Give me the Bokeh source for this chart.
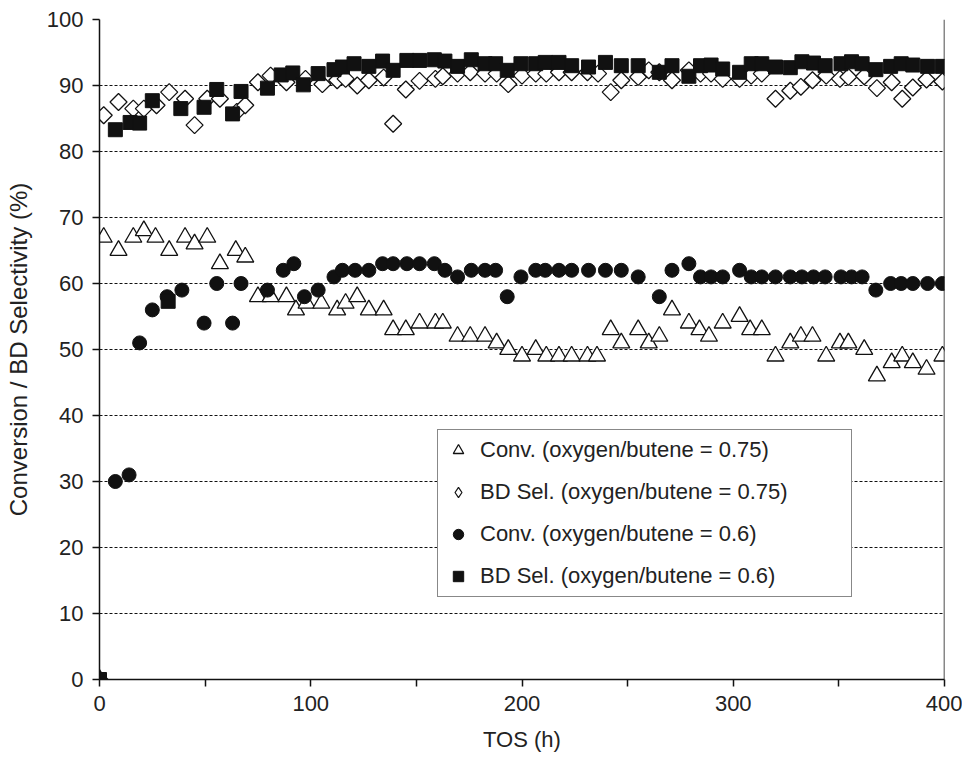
import math
from bokeh.plotting import figure
from bokeh.models import FixedTicker, Legend, LegendItem, Span, Range1d
from bokeh.embed import file_html
from bokeh.resources import INLINE

FONT = "Liberation Sans"

# Conversion, oxygen/butene = 0.75 (open triangles)
tos_conv_075 = [0, 2, 9, 16, 21, 26.5, 33, 40.5, 45, 51,
                57, 64.5, 69, 75, 81, 88.5, 93, 98, 105, 112.5,
                116.5, 122, 127.5, 134.5, 139, 145, 151.5, 159, 162.5, 169.5,
                175.5, 182.5, 188, 193.5, 200, 206.5, 211.5, 217.5, 223.5, 231,
                235.5, 242, 247, 255, 260, 265, 271, 279, 284, 288.5,
                295, 303, 308, 313.5, 320, 327, 332, 337.5, 344, 350.5,
                354.5, 362, 368, 375, 380, 385, 391.5, 399]
conv_075 = [0, 67, 65, 67, 68, 67, 65, 67, 66, 67,
            63, 65, 64, 58, 58, 58, 56, 57, 57, 56,
            57, 58, 56, 56, 53, 53, 54, 54, 54, 52,
            52, 52, 51, 50, 49, 50, 49, 49, 49, 49,
            49, 53, 51, 53, 51, 52, 56, 54, 53, 52,
            54, 55, 53, 53, 49, 51, 52, 52, 49, 51,
            51, 50, 46, 48, 49, 48, 47, 49]

# BD selectivity, oxygen/butene = 0.75 (open diamonds)
tos_sel_075 = [0, 2, 9, 16, 21, 27, 33, 40.5, 45, 51,
               57, 65, 69, 75, 81, 88.5, 97.5, 105.5, 112.5, 116.5,
               122, 127.5, 134.5, 139, 145, 151.5, 159, 162.5, 169.5, 175.5,
               182.5, 188, 193.5, 200, 206.5, 211.5, 217.5, 223.5, 231, 236,
               242, 247, 255, 260, 265, 271, 279, 284.5, 289.5, 295,
               303, 308.5, 313.5, 320, 327, 332, 337.5, 344, 350.5, 354.5,
               362, 368, 375, 380, 385, 391.5, 399]
sel_075 = [0, 85.5, 87.5, 86.5, 86.5, 87, 89, 88, 84, 88,
           88, 86, 87, 90.5, 91.5, 90.5, 91, 90.2, 90.8, 91,
           90, 90.8, 91.2, 84.2, 89.4, 90.7, 91, 91.4, 91.8, 92,
           91.8, 91.8, 90.2, 91.5, 91.8, 91.8, 92, 92, 92, 91.8,
           89, 90.8, 91.3, 92.3, 92, 90.8, 92.3, 91.8, 91.8, 91,
           91, 91.5, 91.8, 88, 89.2, 89.8, 90.8, 91.5, 91, 91.3,
           91.4, 89.6, 90.5, 88, 89.7, 90.9, 90.6]

# Conversion, oxygen/butene = 0.6 (filled circles)
tos_conv_06 = [0, 7.5, 14, 19, 25, 32, 39, 49.5, 55.5,
               63, 67, 79.5, 87, 92, 97, 103.5, 111, 115, 121,
               127.5, 134, 139, 145.5, 151.5, 158.5, 163.5, 169.5, 176, 182.5,
               187.5, 193, 199.5, 206.5, 211, 217.5, 223.5, 231.5, 239.5, 247,
               255, 265, 271, 279, 284.5, 289.5, 295, 303, 308.5, 313.5,
               320, 327, 332.5, 338, 343.5, 351, 356, 361, 367.5, 374.5,
               379.5, 385, 392, 399]
conv_06 = [0, 30, 31, 51, 56, 58, 59, 54, 60,
           54, 60, 59, 62, 63, 58, 59, 61, 62, 62,
           62, 63, 63, 63, 63, 63, 62, 61, 62, 62,
           62, 58, 61, 62, 62, 62, 62, 62, 62, 62,
           61, 58, 62, 63, 61, 61, 61, 62, 61, 61,
           61, 61, 61, 61, 61, 61, 61, 61, 59, 60,
           60, 60, 60, 60]

# BD selectivity, oxygen/butene = 0.6 (filled squares)
tos_sel_06 = [0, 7.5, 14.5, 19, 25, 32.5, 38.5, 49.5, 55.5, 63, 67,
              79.5, 86, 91.5, 96.5, 103.5, 111, 115, 120.5, 127.5, 134,
              139, 145.5, 151.5, 158.5, 163.5, 169.5, 176, 182.5, 187.5, 193,
              199.5, 206.5, 211, 217.5, 223.5, 231.5, 239.5, 247, 255, 265,
              271, 279, 284.5, 289.5, 295, 303, 308.5, 313.5, 320, 327,
              332.5, 338, 343.5, 351, 356, 361, 367.5, 374.5, 379.5, 385,
              392, 399]
sel_06 = [0, 83.3, 84.4, 84.3, 87.7, 57.3, 86.5, 86.7, 89.4, 85.7, 89.1,
          89.6, 91.6, 91.9, 90.1, 91.8, 92.4, 92.8, 93.3, 92.9, 93.7,
          92.3, 93.8, 93.8, 93.9, 93.7, 92.9, 93.9, 93.3, 93.3, 92.3,
          93.3, 93.3, 93.5, 93.5, 93, 92.8, 93.5, 93, 93, 92,
          93, 91.4, 93, 93.1, 92.5, 92, 93.3, 93.3, 92.8, 92.7,
          93.6, 93.4, 93, 93.3, 93.6, 93.3, 92.4, 92.9, 93.3, 93.1,
          92.9, 92.9]

labels = ["Conv. (oxygen/butene = 0.75)",
          "BD Sel. (oxygen/butene = 0.75)",
          "Conv. (oxygen/butene = 0.6)",
          "BD Sel. (oxygen/butene = 0.6)"]

x_ticks = [0, 100, 200, 300, 400]
x_minor = [50, 150, 250, 350]
y_ticks = list(range(0, 101, 10))

INK = "#111111"
TXT = "#222222"

p = figure(width=962, height=763, output_backend="svg", toolbar_location=None,
           x_range=Range1d(0, 400), y_range=Range1d(0, 100),
           min_border_left=99, min_border_right=18, min_border_top=19, min_border_bottom=84,
           background_fill_color="white", border_fill_color="white")
p.outline_line_color = None

r_tri = p.scatter(tos_conv_075, conv_075, marker="triangle", size=17,
                  fill_color="white", line_color=INK, line_width=1.3)
r_dia = p.scatter(tos_sel_075, sel_075, marker="square", angle=math.pi / 4, size=12,
                  fill_color="white", line_color=INK, line_width=1.3)
r_cir = p.scatter(tos_conv_06, conv_06, marker="circle", size=14,
                  fill_color=INK, line_color=INK)
r_sq = p.scatter(tos_sel_06, sel_06, marker="square", size=14,
                 fill_color=INK, line_color=INK)
# legend-only diamond glyph
r_dia_leg = p.scatter([float("nan")], [float("nan")], marker="diamond", size=12,
                      fill_color="white", line_color=INK, line_width=1.2)

p.add_layout(Span(location=400, dimension="height", line_color=INK, line_width=1.5))

p.xaxis.ticker = FixedTicker(ticks=x_ticks, minor_ticks=x_minor)
p.yaxis.ticker = FixedTicker(ticks=y_ticks)
p.xgrid.visible = False
p.ygrid.grid_line_color = INK
p.ygrid.grid_line_dash = "3 2"
p.ygrid.grid_line_width = 1

for ax in (p.xaxis[0], p.yaxis[0]):
    ax.axis_line_color = INK
    ax.axis_line_width = 1.5
    ax.major_tick_line_color = INK
    ax.major_tick_line_width = 1.5
    ax.major_tick_in = 0
    ax.major_tick_out = 7
    ax.minor_tick_in = 0
    ax.minor_tick_out = 7
    ax.minor_tick_line_color = INK
    ax.minor_tick_line_width = 1.5
    ax.major_label_text_font = FONT
    ax.major_label_text_font_size = "22px"
    ax.major_label_text_color = TXT
    ax.major_label_standoff = 9
    ax.axis_label_text_font = FONT
    ax.axis_label_text_font_style = "normal"
    ax.axis_label_text_color = TXT
p.yaxis.minor_tick_line_color = None
p.xaxis.axis_label = "TOS (h)"
p.xaxis.axis_label_text_font_size = "22px"
p.xaxis.axis_label_standoff = 13
p.yaxis.axis_label = "Conversion / BD Selectivity (%)"
p.yaxis.axis_label_text_font_size = "24px"
p.yaxis.axis_label_standoff = 12

legend = Legend(items=[LegendItem(label=labels[0], renderers=[r_tri]),
                       LegendItem(label=labels[1], renderers=[r_dia_leg]),
                       LegendItem(label=labels[2], renderers=[r_cir]),
                       LegendItem(label=labels[3], renderers=[r_sq])],
                location=(338, 82), orientation="vertical",
                border_line_color=INK, border_line_width=1.2,
                background_fill_color="white", background_fill_alpha=1.0,
                padding=7, spacing=16, margin=0,
                glyph_width=26, glyph_height=26, label_height=26, label_width=364,
                label_standoff=9,
                label_text_font=FONT, label_text_font_size="22px", label_text_color=TXT)
p.add_layout(legend)

open("out.html", "w").write(file_html(p, INLINE))
